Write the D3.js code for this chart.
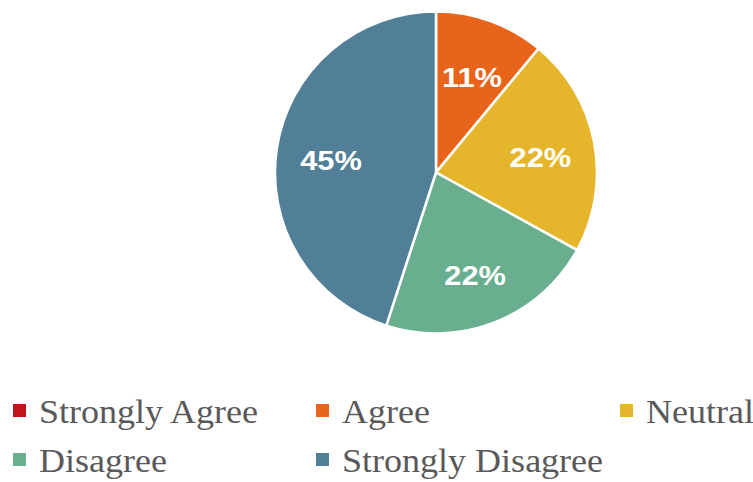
<!DOCTYPE html>
<html>
<head>
<meta charset="utf-8">
<script src="https://cdn.jsdelivr.net/npm/d3@7"></script>
<style>
  body { margin: 0; background: #fff; }
</style>
</head>
<body>
<div id="chart"></div>
<script>
const categories = ["Strongly Agree", "Agree", "Neutral", "Disagree", "Strongly Disagree"];
const values = [0, 11, 22, 22, 45];
const colors = ["#C0161B", "#E8641B", "#E5B52C", "#69AE8F", "#527F98"];

const width = 753;
const height = 482;
const cx = 436, cy = 172.5, radius = 161;

const svg = d3.select("#chart")
  .append("svg")
  .attr("width", width)
  .attr("height", height);

const data = categories.map((c, i) => ({ name: c, value: values[i], color: colors[i] }));

const pie = d3.pie().sort(null).value(d => d.value);
const arc = d3.arc().innerRadius(0).outerRadius(radius);
const labelArc = d3.arc().innerRadius(radius * 0.66).outerRadius(radius * 0.66);

const g = svg.append("g").attr("transform", `translate(${cx},${cy})`);

const arcs = pie(data);

g.selectAll("path")
  .data(arcs)
  .join("path")
  .attr("d", arc)
  .attr("fill", d => d.data.color)
  .attr("stroke", "#fff")
  .attr("stroke-width", 2.5);

// percent labels, slightly wide like the original
g.selectAll("text")
  .data(arcs.filter(d => d.data.value > 0))
  .join("text")
  .attr("transform", d => `translate(${labelArc.centroid(d)}) scale(1.1,1)`)
  .attr("text-anchor", "middle")
  .attr("dy", "0.5em")
  .attr("font-family", "'Liberation Sans', Arial, sans-serif")
  .attr("font-weight", "bold")
  .attr("font-size", "28px")
  .attr("fill", "#fff")
  .text(d => d.data.value + "%");

// legend
const colX = [13, 316, 620];
const rowY = [423, 472];
const legend = svg.append("g");

data.forEach((d, i) => {
  const x = colX[i % 3];
  const y = rowY[Math.floor(i / 3)];
  legend.append("rect")
    .attr("x", x)
    .attr("y", y - 19)
    .attr("width", 13)
    .attr("height", 13)
    .attr("fill", d.color);
  legend.append("text")
    .attr("transform", `translate(${x + 26},${y}) scale(1.06,1)`)
    .attr("font-family", "'Liberation Serif', 'Times New Roman', serif")
    .attr("font-size", "34px")
    .attr("fill", "#595959")
    .text(d.name);
});
</script>
</body>
</html>
